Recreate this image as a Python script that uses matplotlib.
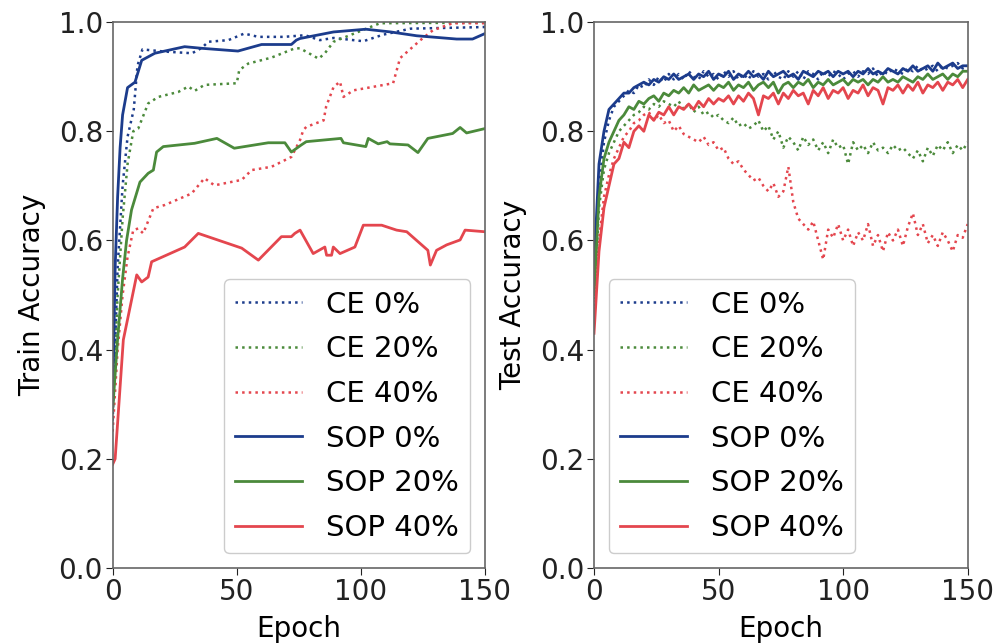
import matplotlib
matplotlib.use("Agg")
import matplotlib.pyplot as plt
import numpy as np

plt.rcParams['font.family'] = ['DejaVu Sans']

# ---------------- Train accuracy (left) ----------------
tr_ce0_x = [0, 2, 4, 6, 8.5, 10, 12, 21, 32, 36, 38.5, 46.6, 53, 58.7, 69, 77.5, 83.5, 89, 101, 109, 120, 150]
tr_ce0_y = [0.27, 0.55, 0.70, 0.79, 0.84, 0.92, 0.95, 0.946, 0.943, 0.953, 0.964, 0.967, 0.979, 0.973, 0.973, 0.976, 0.967, 0.971, 0.965, 0.977, 0.988, 0.991]

tr_ce20_x = [0, 2, 4, 6, 8.3, 10.3, 14.3, 18.4, 26.4, 30.5, 33, 37, 50, 51, 54.6, 64, 73.4, 75.5, 83, 85.5, 89, 107.7, 150]
tr_ce20_y = [0.29, 0.50, 0.64, 0.74, 0.80, 0.805, 0.851, 0.863, 0.872, 0.882, 0.874, 0.885, 0.888, 0.912, 0.924, 0.935, 0.952, 0.952, 0.933, 0.943, 0.964, 0.998, 0.999]

tr_ce40_x = [0, 2, 4, 6, 8.3, 10.3, 12.3, 16.4, 21, 31.8, 37, 41, 52, 56, 64, 72, 75.5, 76.8, 78, 85, 86, 89, 91.6, 93, 97, 113, 115.8, 124, 129, 137, 150]
tr_ce40_y = [0.25, 0.40, 0.50, 0.57, 0.619, 0.622, 0.613, 0.659, 0.665, 0.686, 0.714, 0.701, 0.711, 0.729, 0.735, 0.753, 0.784, 0.802, 0.808, 0.82, 0.845, 0.881, 0.891, 0.863, 0.875, 0.888, 0.934, 0.967, 0.985, 0.998, 0.998]

tr_sop0_x = [0, 1, 2, 3, 4, 6, 9, 11.7, 17, 29, 36, 50.5, 60, 72, 74, 75.5, 89, 102, 112, 122.5, 138.6, 145, 150]
tr_sop0_y = [0.30, 0.55, 0.68, 0.77, 0.83, 0.88, 0.89, 0.93, 0.943, 0.955, 0.952, 0.947, 0.959, 0.959, 0.967, 0.97, 0.982, 0.987, 0.982, 0.975, 0.969, 0.969, 0.979]

tr_sop20_x = [0, 2, 4, 5.6, 7.6, 11, 14.3, 16.4, 17.7, 20.4, 33, 42, 49, 62.7, 69.4, 72, 76, 78, 92, 93, 102, 103, 107, 110.6, 111.7, 119, 123, 127, 137, 140, 142.6, 150]
tr_sop20_y = [0.29, 0.42, 0.53, 0.60, 0.656, 0.707, 0.723, 0.729, 0.762, 0.772, 0.778, 0.787, 0.769, 0.779, 0.779, 0.762, 0.775, 0.781, 0.787, 0.779, 0.772, 0.787, 0.777, 0.781, 0.777, 0.775, 0.761, 0.787, 0.796, 0.807, 0.797, 0.805]

tr_sop40_x = [0, 1, 4.3, 9.7, 11.7, 14.3, 15.7, 29, 34.5, 52, 58.7, 68, 72, 73.4, 75.5, 80.8, 85.5, 86.2, 88.2, 88.9, 91.6, 97.6, 101, 108.4, 114.4, 118.5, 127, 128, 130.5, 134.6, 140, 142, 150]
tr_sop40_y = [0.19, 0.20, 0.418, 0.537, 0.524, 0.533, 0.561, 0.588, 0.613, 0.586, 0.564, 0.607, 0.607, 0.613, 0.619, 0.576, 0.588, 0.573, 0.573, 0.588, 0.576, 0.588, 0.628, 0.628, 0.619, 0.616, 0.582, 0.555, 0.582, 0.592, 0.601, 0.619, 0.616]

# ---------------- Test accuracy (right) ----------------
te_x = list(range(0, 151, 2))

te_sop0 = [0.55, 0.74, 0.80, 0.84, 0.85, 0.86, 0.87, 0.87, 0.88, 0.885,
           0.89, 0.885, 0.895, 0.89, 0.90, 0.895, 0.905, 0.895, 0.90, 0.905,
           0.895, 0.905, 0.90, 0.91, 0.895, 0.905, 0.90, 0.91, 0.895, 0.905,
           0.90, 0.91, 0.90, 0.905, 0.895, 0.91, 0.90, 0.905, 0.91, 0.90,
           0.905, 0.895, 0.91, 0.905, 0.90, 0.91, 0.905, 0.91, 0.90, 0.91,
           0.905, 0.91, 0.90, 0.91, 0.905, 0.915, 0.905, 0.91, 0.905, 0.915,
           0.91, 0.905, 0.915, 0.91, 0.92, 0.91, 0.915, 0.92, 0.91, 0.925,
           0.915, 0.92, 0.925, 0.915, 0.92, 0.92]

te_ce0 = [0.52, 0.70, 0.78, 0.82, 0.845, 0.855, 0.865, 0.875, 0.87, 0.885,
          0.88, 0.895, 0.885, 0.90, 0.89, 0.905, 0.895, 0.905, 0.895, 0.91,
          0.90, 0.895, 0.91, 0.90, 0.905, 0.895, 0.91, 0.90, 0.91, 0.895,
          0.905, 0.895, 0.91, 0.90, 0.905, 0.895, 0.91, 0.90, 0.895, 0.91,
          0.90, 0.91, 0.895, 0.91, 0.905, 0.895, 0.91, 0.90, 0.91, 0.905,
          0.895, 0.905, 0.91, 0.90, 0.91, 0.905, 0.915, 0.90, 0.91, 0.905,
          0.915, 0.91, 0.905, 0.915, 0.91, 0.92, 0.91, 0.915, 0.92, 0.91,
          0.92, 0.915, 0.92, 0.925, 0.915, 0.92]

te_sop20 = [0.50, 0.68, 0.75, 0.78, 0.80, 0.82, 0.83, 0.845, 0.84, 0.855,
            0.85, 0.86, 0.865, 0.855, 0.87, 0.865, 0.875, 0.87, 0.88, 0.87,
            0.885, 0.875, 0.88, 0.885, 0.875, 0.885, 0.88, 0.89, 0.875, 0.885,
            0.88, 0.89, 0.875, 0.885, 0.89, 0.88, 0.89, 0.87, 0.885, 0.89,
            0.88, 0.89, 0.885, 0.895, 0.88, 0.89, 0.885, 0.895, 0.885, 0.89,
            0.895, 0.885, 0.895, 0.89, 0.895, 0.885, 0.895, 0.89, 0.90, 0.89,
            0.895, 0.89, 0.90, 0.895, 0.89, 0.90, 0.895, 0.905, 0.895, 0.90,
            0.905, 0.895, 0.905, 0.90, 0.91, 0.91]

te_ce20 = [0.48, 0.66, 0.73, 0.76, 0.78, 0.80, 0.81, 0.82, 0.83, 0.835,
           0.845, 0.84, 0.85, 0.845, 0.855, 0.85, 0.845, 0.855, 0.84, 0.85,
           0.835, 0.845, 0.83, 0.835, 0.825, 0.83, 0.82, 0.815, 0.825, 0.81,
           0.815, 0.805, 0.81, 0.82, 0.80, 0.81, 0.785, 0.80, 0.77, 0.79,
           0.78, 0.765, 0.79, 0.775, 0.785, 0.765, 0.78, 0.76, 0.785, 0.77,
           0.775, 0.74, 0.78, 0.765, 0.775, 0.76, 0.78, 0.765, 0.77, 0.76,
           0.775, 0.765, 0.77, 0.76, 0.75, 0.765, 0.745, 0.77, 0.755, 0.775,
           0.765, 0.78, 0.76, 0.775, 0.765, 0.78]

te_sop40 = [0.43, 0.58, 0.66, 0.70, 0.74, 0.75, 0.78, 0.77, 0.80, 0.81,
            0.80, 0.83, 0.82, 0.835, 0.83, 0.845, 0.83, 0.845, 0.84, 0.85,
            0.84, 0.855, 0.845, 0.86, 0.85, 0.86, 0.855, 0.865, 0.85, 0.865,
            0.855, 0.87, 0.86, 0.83, 0.865, 0.86, 0.87, 0.85, 0.87, 0.86,
            0.875, 0.865, 0.87, 0.85, 0.875, 0.865, 0.88, 0.86, 0.875, 0.87,
            0.88, 0.86, 0.875, 0.87, 0.885, 0.865, 0.88, 0.875, 0.85, 0.88,
            0.875, 0.885, 0.87, 0.885, 0.875, 0.89, 0.87, 0.885, 0.88, 0.89,
            0.875, 0.89, 0.885, 0.895, 0.88, 0.895]

te_ce40 = [0.45, 0.60, 0.68, 0.72, 0.75, 0.77, 0.79, 0.80, 0.815, 0.82,
           0.83, 0.835, 0.82, 0.83, 0.815, 0.82, 0.80, 0.81, 0.795, 0.79,
           0.785, 0.78, 0.79, 0.775, 0.78, 0.765, 0.77, 0.75, 0.74, 0.745,
           0.73, 0.72, 0.71, 0.715, 0.70, 0.69, 0.705, 0.68, 0.69, 0.735,
           0.67, 0.64, 0.63, 0.62, 0.635, 0.60, 0.565, 0.62, 0.605, 0.63,
           0.60, 0.62, 0.59, 0.615, 0.60, 0.63, 0.59, 0.61, 0.58, 0.615,
           0.60, 0.62, 0.59, 0.625, 0.65, 0.61, 0.63, 0.595, 0.61, 0.59,
           0.615, 0.60, 0.58, 0.61, 0.605, 0.63]

labels = ['CE 0%', 'CE 20%', 'CE 40%', 'SOP 0%', 'SOP 20%', 'SOP 40%']
BLUE, GREEN, RED = '#1c3c8c', '#4b8a3b', '#e4464e'

fig = plt.figure(figsize=(9.97, 6.43), dpi=100)
axL = fig.add_axes([0.113, 0.1166, 0.3734, 0.849])
axR = fig.add_axes([0.5958, 0.1166, 0.3748, 0.849])

FS = 20
LFS = 21

def style(ax, ylabel):
    ax.set_xlim(0, 150)
    ax.set_ylim(0, 1.0)
    ax.set_xticks([0, 50, 100, 150])
    ax.set_yticks([0.0, 0.2, 0.4, 0.6, 0.8, 1.0])
    ax.tick_params(labelsize=FS, colors='#222222', length=5, pad=2)
    for s in ax.spines.values():
        s.set_color('#666666')
        s.set_linewidth(1.2)
    ax.set_xlabel('Epoch', fontsize=FS, labelpad=7)
    ax.set_ylabel(ylabel, fontsize=FS, labelpad=9)

dot = dict(linestyle=':', linewidth=1.8)
sol = dict(linestyle='-', linewidth=2.0)

axL.plot(tr_ce0_x, tr_ce0_y, color=BLUE, label=labels[0], **dot)
axL.plot(tr_ce20_x, tr_ce20_y, color=GREEN, label=labels[1], **dot)
axL.plot(tr_ce40_x, tr_ce40_y, color=RED, label=labels[2], **dot)
axL.plot(tr_sop0_x, tr_sop0_y, color=BLUE, label=labels[3], **sol)
axL.plot(tr_sop20_x, tr_sop20_y, color=GREEN, label=labels[4], **sol)
axL.plot(tr_sop40_x, tr_sop40_y, color=RED, label=labels[5], **sol)
style(axL, 'Train Accuracy')

axR.plot(te_x, te_ce0, color=BLUE, label=labels[0], **dot)
axR.plot(te_x, te_ce20, color=GREEN, label=labels[1], **dot)
axR.plot(te_x, te_ce40, color=RED, label=labels[2], **dot)
axR.plot(te_x, te_sop0, color=BLUE, label=labels[3], **sol)
axR.plot(te_x, te_sop20, color=GREEN, label=labels[4], **sol)
axR.plot(te_x, te_sop40, color=RED, label=labels[5], **sol)
style(axR, 'Test Accuracy')

leg_kw = dict(fontsize=LFS, handlelength=2.3, labelspacing=0.57,
              borderaxespad=0.5, handletextpad=0.8, framealpha=1.0)
axL.legend(loc='lower right', **leg_kw)
axR.legend(loc='lower left', **leg_kw)

fig.savefig('out.png', dpi=100)
